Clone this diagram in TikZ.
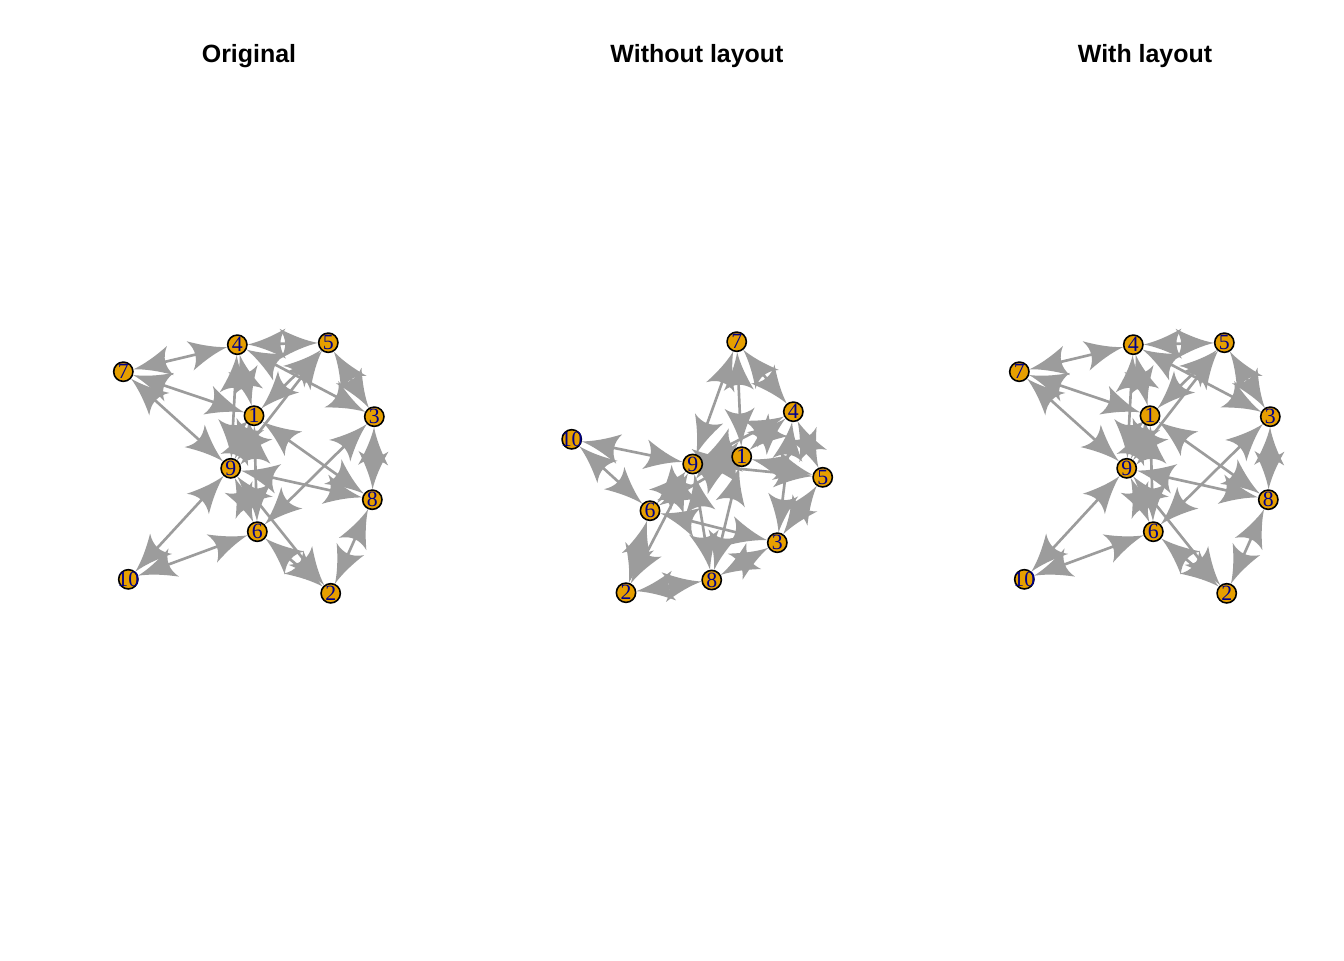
\documentclass[tikz,border=0pt]{standalone}
\usepackage{fontspec}
\setmainfont{Liberation Serif}
\newfontfamily\headfont{Liberation Sans}
\usepackage{xcolor}
\usetikzlibrary{arrows.meta}

\definecolor{edgegrey}{HTML}{9C9C9C}
\definecolor{vertorange}{HTML}{E69F00}
\definecolor{labelblue}{HTML}{00008B}

\pgfdeclarelayer{paperlayer}
\pgfdeclarelayer{edgelayer}
\pgfsetlayers{paperlayer,edgelayer,main}

\pgfdeclarearrow{
  name = Fan,
  parameters = {\the\pgfarrowlength,\the\pgfarrowwidth},
  setup code = {
    \pgfarrowssettipend{0pt}
    \pgfarrowssetlineend{-.5\pgfarrowlength}
    \pgfarrowssetbackend{-\pgfarrowlength}
    \pgfarrowssavethe\pgfarrowlength
    \pgfarrowssavethe\pgfarrowwidth
  },
  drawing code = {
    \pgfpathmoveto{\pgfqpoint{0pt}{0pt}}
    \pgfpathquadraticcurveto{\pgfqpoint{-.45\pgfarrowlength}{.12\pgfarrowwidth}}{\pgfqpoint{-\pgfarrowlength}{.5\pgfarrowwidth}}
    \pgfpathquadraticcurveto{\pgfqpoint{-.72\pgfarrowlength}{0pt}}{\pgfqpoint{-\pgfarrowlength}{-.5\pgfarrowwidth}}
    \pgfpathquadraticcurveto{\pgfqpoint{-.45\pgfarrowlength}{-.12\pgfarrowwidth}}{\pgfqpoint{0pt}{0pt}}
    \pgfpathclose
    \pgfusepathqfill
  },
  defaults = {length = 3.8mm, width = 3mm}
}

\tikzset{
  vlabel/.style={text=labelblue, inner sep=0pt, font=\fontsize{6.2}{6.5}\selectfont},
  vert/.style={circle, draw=black, line width=0.45pt, fill=vertorange, minimum size=1.93mm,
    inner sep=0pt, label={[vlabel]center:#1}},
  netedge/.style={draw=edgegrey, line width=0.75pt, {Fan}-{Fan}},
  paneltitle/.style={anchor=base, font=\headfont\bfseries\fontsize{7.1}{8}\selectfont}
}

\begin{document}
\begin{tikzpicture}[x=0.1mm, y=-0.1mm]
    \begin{pgfonlayer}{paperlayer}
        \path[fill=white, use as bounding box] (0,0) rectangle (1344,960);
    \end{pgfonlayer}

    \node[paneltitle] (torig) at (249,62) {Original};
    \node[paneltitle] (tnolay) at (697,62) {Without layout};
    \node[paneltitle] (twlay) at (1145,62) {With layout};

    \foreach \v/\x/\y in {1/254/415.7, 2/330.7/593.3, 3/374.3/416.7, 4/237.3/344.7, 5/328.3/342.7,
                          6/257.3/531.7, 7/123.3/371.7, 8/372.3/499.7, 9/230.7/468.3, 10/128.3/579.3}{
        \node[vert=\v] (o\v) at (\x,\y) {};
        \node[vert=\v] (l\v) at (\x+896,\y) {};
    }
    \foreach \v/\x/\y in {1/741.7/456.7, 2/626/592.7, 3/777.3/542.7, 4/793.3/411.7, 5/822.7/477.3,
                          6/650/510.7, 7/736.7/341.7, 8/711.7/580, 9/692.7/464, 10/571.7/439.3}{
        \node[vert=\v] (n\v) at (\x,\y) {};
    }

    \begin{pgfonlayer}{edgelayer}
        \foreach \a/\b in {7/4, 7/1, 7/9, 4/5, 4/1, 4/9, 4/3, 5/3, 5/1, 5/9, 1/8,
                           3/8, 3/6, 9/8, 9/10, 10/6, 6/2, 2/8, 9/2, 9/6, 9/1, 1/6}{
            \draw[netedge] (o\a) -- (o\b);
            \draw[netedge] (n\a) -- (n\b);
            \draw[netedge] (l\a) -- (l\b);
        }
    \end{pgfonlayer}
\end{tikzpicture}
\end{document}
